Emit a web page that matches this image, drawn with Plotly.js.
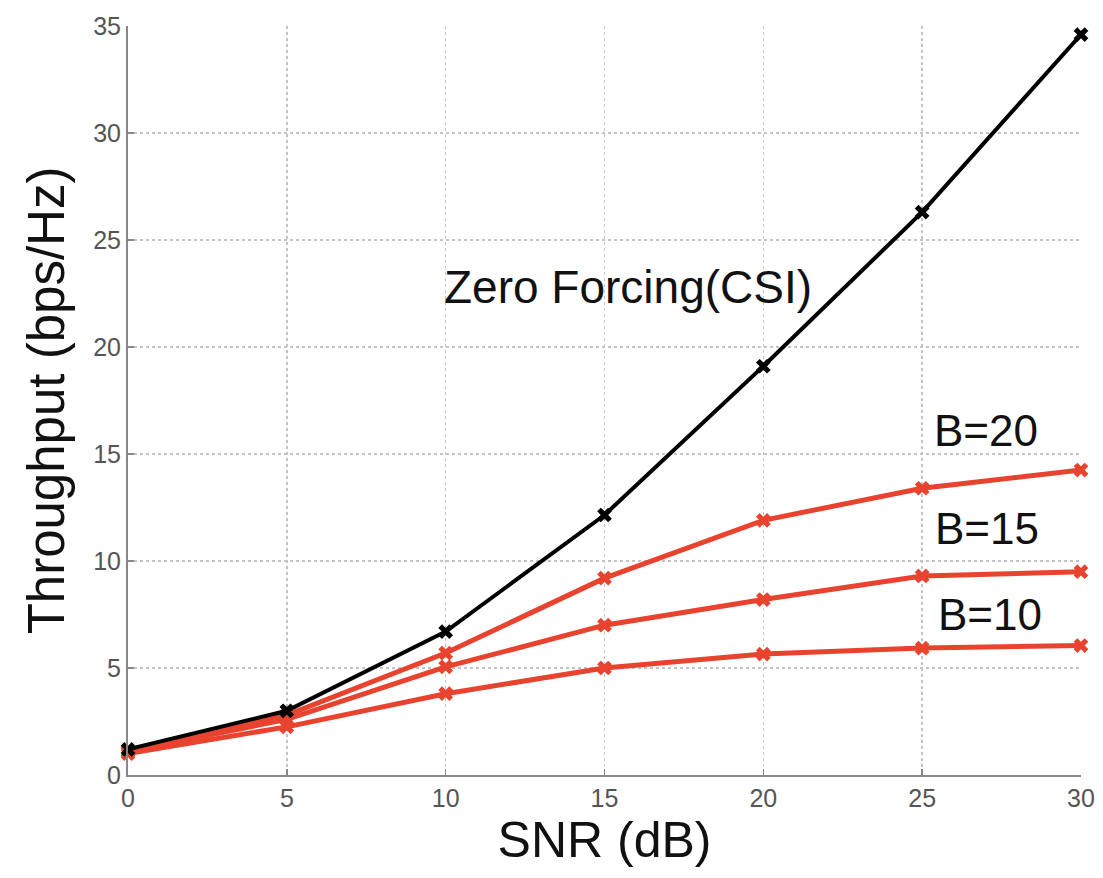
<!DOCTYPE html>
<html>
<head>
<meta charset="utf-8">
<script src="https://cdn.plot.ly/plotly-3.0.1.min.js"></script>
<style>html,body{margin:0;padding:0;background:#fff;}#chart{width:1103px;height:878px;}</style>
</head>
<body>
<div id="chart"></div>
<script>
const snr = [0, 5, 10, 15, 20, 25, 30];
const zeroForcing = [1.2, 3.0, 6.7, 12.15, 19.1, 26.3, 34.6];
const b20 = [1.1, 2.8, 5.7, 9.2, 11.9, 13.4, 14.25];
const b15 = [1.1, 2.6, 5.05, 7.0, 8.2, 9.3, 9.5];
const b10 = [1.0, 2.25, 3.8, 5.0, 5.65, 5.93, 6.05];
const xTicks = [0, 5, 10, 15, 20, 25, 30];
const yTicks = [0, 5, 10, 15, 20, 25, 30, 35];
const labels = [
  {text: 'Zero Forcing(CSI)', x: 15.75, y: 22.8, size: 46},
  {text: 'B=20', x: 27.0, y: 16.1, size: 44},
  {text: 'B=15', x: 27.05, y: 11.5, size: 44},
  {text: 'B=10', x: 27.15, y: 7.5, size: 44}
];

const red = '#e8432f';
function tr(y, color, w) {
  return {x: snr, y: y, type: 'scatter', mode: 'lines+markers',
    line: {color: color, width: w},
    marker: {symbol: 'x', size: 13, color: color},
    showlegend: false, cliponaxis: false};
}
const data = [tr(b10, red, 5), tr(b15, red, 5), tr(b20, red, 5), tr(zeroForcing, '#000', 4)];

const font = 'Liberation Sans, Arial, sans-serif';
const layout = {
  width: 1103, height: 878,
  margin: {l: 128, r: 22, t: 26, b: 103},
  paper_bgcolor: '#fff', plot_bgcolor: '#fff',
  showlegend: false,
  xaxis: {
    range: [0, 30], tickvals: xTicks, ticktext: xTicks.map(String),
    showgrid: true, gridcolor: '#c4c4c4', griddash: 'dot', gridwidth: 1.5,
    zeroline: false, showline: true, linecolor: '#888', linewidth: 2,
    ticks: 'inside', ticklen: 6, tickcolor: '#888', tickwidth: 1.5,
    tickfont: {family: font, size: 25, color: '#555'},
    title: {text: 'SNR (dB)', font: {family: font, size: 50, color: '#111'}, standoff: 10}
  },
  yaxis: {
    range: [0, 35], tickvals: yTicks, ticktext: yTicks.map(String),
    showgrid: true, gridcolor: '#c4c4c4', griddash: 'dot', gridwidth: 1.5,
    zeroline: false, showline: true, linecolor: '#888', linewidth: 2,
    ticks: 'inside', ticklen: 6, tickcolor: '#888', tickwidth: 1.5,
    tickfont: {family: font, size: 25, color: '#555'},
    title: {text: 'Throughput (bps/Hz)', font: {family: font, size: 51, color: '#111'}, standoff: 12}
  },
  annotations: labels.map(l => ({
    text: l.text, x: l.x, y: l.y, xref: 'x', yref: 'y', showarrow: false,
    xanchor: 'center', yanchor: 'middle',
    font: {family: font, size: l.size, color: '#111'}
  }))
};
Plotly.newPlot('chart', data, layout, {displayModeBar: false, staticPlot: true});
</script>
</body>
</html>
